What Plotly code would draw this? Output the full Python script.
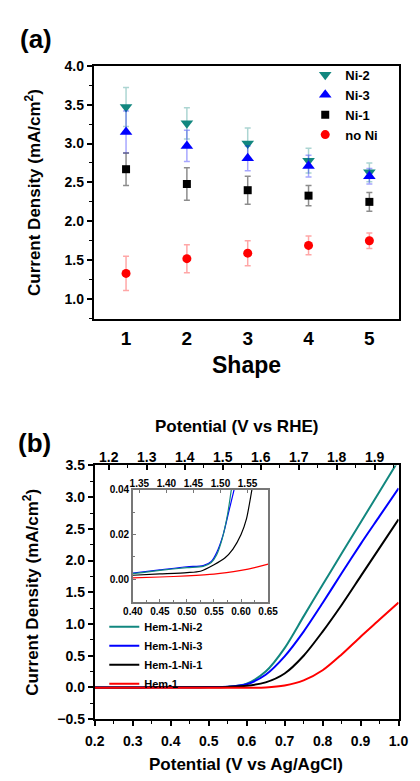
import plotly.graph_objects as go

W, H = 420, 781


def px(x):
    return x / W


def py(y):
    return 1 - y / H


# ---------------- Panel (a) data ----------------
shapes = [1, 2, 3, 4, 5]
ni2 = [3.47, 3.26, 3.00, 2.78, 2.63]
ni2_err = [0.25, 0.20, 0.20, 0.16, 0.12]
ni3 = [3.15, 2.97, 2.81, 2.71, 2.58]
ni3_err = [0.27, 0.20, 0.16, 0.14, 0.10]
ni1 = [2.67, 2.48, 2.40, 2.33, 2.25]
ni1_err = [0.21, 0.21, 0.18, 0.13, 0.12]
noni = [1.33, 1.52, 1.59, 1.69, 1.75]
noni_err = [0.22, 0.18, 0.16, 0.12, 0.10]

# ---------------- Panel (b) main data (V vs Ag/AgCl) ----------------
potential = [0.20, 0.25, 0.30, 0.35, 0.40, 0.45, 0.50, 0.55, 0.60,
             0.65, 0.70, 0.75, 0.80, 0.85, 0.90, 0.95, 1.00]
j_ni2 = [0.000, 0.000, 0.000, 0.001, 0.002, 0.003, 0.005, 0.010, 0.060,
         0.25, 0.62, 1.12, 1.62, 2.11, 2.60, 3.09, 3.58]
j_ni3 = [0.000, 0.000, 0.000, 0.001, 0.002, 0.003, 0.005, 0.010, 0.050,
         0.20, 0.49, 0.88, 1.33, 1.80, 2.26, 2.70, 3.14]
j_ni1 = [0.000, 0.000, 0.000, 0.001, 0.002, 0.002, 0.003, 0.008, 0.025,
         0.08, 0.22, 0.50, 0.88, 1.30, 1.75, 2.20, 2.65]
j_hem = [-0.005, -0.005, -0.005, -0.005, -0.005, -0.005, -0.005, -0.005, -0.004,
         0.00, 0.03, 0.11, 0.27, 0.52, 0.80, 1.07, 1.34]

# ---------------- Panel (b) inset data ----------------
vi_teal = [0.40, 0.45, 0.50, 0.53, 0.545, 0.555, 0.565, 0.575, 0.582, 0.59]
ji_teal = [0.0025, 0.0040, 0.0052, 0.0058, 0.0075, 0.011, 0.018, 0.029, 0.040, 0.052]
vi_blue = [0.40, 0.45, 0.50, 0.53, 0.545, 0.555, 0.567, 0.578, 0.587, 0.595]
ji_blue = [0.0028, 0.0042, 0.0056, 0.0061, 0.0080, 0.012, 0.020, 0.031, 0.040, 0.050]
vi_black = [0.40, 0.45, 0.50, 0.525, 0.55, 0.57, 0.585, 0.60, 0.61, 0.62, 0.625]
ji_black = [0.0018, 0.0024, 0.0030, 0.0036, 0.0065, 0.0095, 0.0135, 0.020, 0.027, 0.040, 0.047]
vi_red = [0.40, 0.45, 0.50, 0.55, 0.60, 0.625, 0.65]
ji_red = [0.0006, 0.0010, 0.0015, 0.0023, 0.0040, 0.0052, 0.0068]

rhe_ticks = [1.2, 1.3, 1.4, 1.5, 1.6, 1.7, 1.8, 1.9]
rhe_inset_ticks = [1.35, 1.40, 1.45, 1.50, 1.55]

TEAL = "#12877f"
BLUE = "#0000ff"
BLACK = "#000000"
RED = "#ff0000"
FONT = "Liberation Sans, Arial, sans-serif"

fig = go.Figure()

# ----- panel (a) traces -----
series_a = [
    ("Ni-2", ni2, ni2_err, TEAL, "triangle-down", 11, "rgba(18,135,127,0.35)"),
    ("Ni-3", ni3, ni3_err, BLUE, "triangle-up", 11, "rgba(0,0,255,0.35)"),
    ("Ni-1", ni1, ni1_err, BLACK, "square", 8, "rgba(0,0,0,0.45)"),
    ("no Ni", noni, noni_err, RED, "circle", 9, "rgba(255,0,0,0.35)"),
]
for name, vals, errs, col, sym, size, ecol in series_a:
    fig.add_trace(go.Scatter(
        x=shapes, y=vals, mode="markers", name=name,
        marker=dict(symbol=sym, size=size, color=col, line=dict(width=0)),
        error_y=dict(type="data", array=errs, visible=True, color=ecol,
                     thickness=1.5, width=3),
        xaxis="x", yaxis="y", legend="legend", cliponaxis=False,
    ))

# ----- panel (b) main traces -----
series_b = [
    ("Hem-1-Ni-2", j_ni2, TEAL),
    ("Hem-1-Ni-3", j_ni3, BLUE),
    ("Hem-1-Ni-1", j_ni1, BLACK),
    ("Hem-1", j_hem, RED),
]
for name, jj, col in series_b:
    fig.add_trace(go.Scatter(
        x=potential, y=jj, mode="lines", name=name,
        line=dict(color=col, width=2, shape="spline", smoothing=0.8),
        xaxis="x2", yaxis="y2", legend="legend2",
    ))

# dummy trace for the RHE top axis
fig.add_trace(go.Scatter(x=[rhe_ticks[0]], y=[None], mode="lines", showlegend=False,
                         hoverinfo="skip", xaxis="x3", yaxis="y2"))

# ----- inset traces -----
series_i = [
    (vi_red, ji_red, RED),
    (vi_black, ji_black, BLACK),
    (vi_blue, ji_blue, BLUE),
    (vi_teal, ji_teal, TEAL),
]
for vv, jj, col in series_i:
    fig.add_trace(go.Scatter(
        x=vv, y=jj, mode="lines", showlegend=False,
        line=dict(color=col, width=1.2, shape="spline", smoothing=0.7),
        xaxis="x4", yaxis="y4",
    ))
fig.add_trace(go.Scatter(x=[rhe_inset_ticks[0]], y=[None], mode="lines", showlegend=False,
                         hoverinfo="skip", xaxis="x5", yaxis="y4"))

bold14 = dict(family=FONT, size=14, color="black", weight="bold")
bold10 = dict(family=FONT, size=10, color="black", weight="bold")

common = dict(showgrid=False, zeroline=False, showline=True, linecolor="black",
              linewidth=2)

fig.update_layout(
    width=W, height=H,
    margin=dict(l=0, r=0, t=0, b=0),
    paper_bgcolor="white", plot_bgcolor="white",
    font=dict(family=FONT, color="black"),
    xaxis=dict(domain=[px(88), px(408)], anchor="y", range=[0.47, 5.48],
               tickvals=shapes, ticks="", mirror=True,
               tickfont=dict(family=FONT, size=19, color="black", weight="bold"),
               ticklabelstandoff=2, **common),
    yaxis=dict(domain=[py(317), py(59)], anchor="x", range=[0.75, 4.0],
               tick0=0, dtick=0.5, tickformat=".1f", ticks="outside", ticklen=5,
               tickwidth=1.5, tickcolor="black", mirror=True,
               minor=dict(dtick=0.25, ticks="outside", ticklen=3, tickwidth=1.2,
                          tickcolor="black"),
               tickfont=bold14, **common),
    xaxis2=dict(domain=[px(89), px(408)], anchor="y2", range=[0.2, 1.0],
                tick0=0.2, dtick=0.1, tickformat=".1f", ticks="outside", ticklen=5,
                tickwidth=1.5, tickcolor="black", mirror=True,
                minor=dict(dtick=0.05, ticks="outside", ticklen=3, tickwidth=1.2,
                           tickcolor="black"),
                ticklabelstandoff=3, tickfont=bold14, **common),
    yaxis2=dict(domain=[py(726), py(467)], anchor="x2", range=[-0.5, 3.5],
                tick0=0, dtick=0.5, tickformat=".1f", ticks="outside", ticklen=5,
                tickwidth=1.5, tickcolor="black", mirror=True,
                minor=dict(dtick=0.25, ticks="outside", ticklen=3, tickwidth=1.2,
                           tickcolor="black"),
                tickfont=bold14, **common),
    xaxis3=dict(overlaying="x2", anchor="y2", side="top", range=[1.163, 1.963],
                tickvals=rhe_ticks, tickformat=".1f", ticks="inside", ticklen=5,
                tickwidth=1.5, tickcolor="black",
                minor=dict(dtick=0.05, tick0=1.15, ticks="inside", ticklen=3,
                           tickwidth=1.2, tickcolor="black"),
                showgrid=False, zeroline=False, showline=False,
                tickfont=bold14),
    xaxis4=dict(domain=[px(129), px(271)], anchor="y4", range=[0.40, 0.65],
                tick0=0.4, dtick=0.05, tickformat=".2f", ticks="inside", ticklen=3,
                tickwidth=1, tickcolor="#777", mirror=True,
                minor=dict(dtick=0.025, ticks="inside", ticklen=2, tickwidth=1,
                           tickcolor="#777"),
                showgrid=False, zeroline=False, showline=True, linecolor="#777",
                linewidth=1.5, tickfont=bold10),
    yaxis4=dict(domain=[py(606), py(492)], anchor="x4", range=[-0.01, 0.04],
                tickvals=[0, 0.02, 0.04], tickformat=".2f", ticks="inside",
                ticklen=3, tickwidth=1, tickcolor="#777", mirror=True,
                minor=dict(dtick=0.01, ticks="inside", ticklen=2, tickwidth=1,
                           tickcolor="#777"),
                showgrid=False, zeroline=False, showline=True, linecolor="#777",
                linewidth=1.5, tickfont=bold10),
    xaxis5=dict(overlaying="x4", anchor="y4", side="top", range=[1.338, 1.588],
                tickvals=rhe_inset_ticks, tickformat=".2f", ticks="inside",
                ticklen=3, tickwidth=1, tickcolor="#777",
                showgrid=False, zeroline=False, showline=False, tickfont=bold10),
    legend=dict(x=px(310), y=py(53), xanchor="left", yanchor="top",
                bgcolor="rgba(0,0,0,0)", itemwidth=30, tracegroupgap=0,
                font=dict(family=FONT, size=13, color="black", weight="bold")),
    legend2=dict(x=px(99), y=py(617), xanchor="left", yanchor="top",
                 bgcolor="rgba(0,0,0,0)", itemwidth=30, tracegroupgap=0,
                 font=dict(family=FONT, size=11, color="black", weight="bold")),
    showlegend=True,
)

ann = [
    dict(text="<b>(a)</b>", x=px(8), y=py(32), xanchor="left", yanchor="middle",
         font=dict(size=26)),
    dict(text="<b>Current Density (mA/cm<sup>2</sup>)</b>", x=px(24), y=py(188),
         textangle=-90, xanchor="center", yanchor="middle", font=dict(size=17)),
    dict(text="<b>Shape</b>", x=px(248), y=py(364), xanchor="center",
         yanchor="middle", font=dict(size=23)),
    dict(text="<b>(b)</b>", x=px(6), y=py(444), xanchor="left", yanchor="middle",
         font=dict(size=26)),
    dict(text="<b>Potential (V vs RHE)</b>", x=px(238), y=py(427), xanchor="center",
         yanchor="middle", font=dict(size=17)),
    dict(text="<b>Current Density (mA/cm<sup>2</sup>)</b>", x=px(22), y=py(596),
         textangle=-90, xanchor="center", yanchor="middle", font=dict(size=17)),
    dict(text="<b>Potential (V vs Ag/AgCl)</b>", x=px(248), y=py(772),
         xanchor="center", yanchor="middle", font=dict(size=17)),
]
for a in ann:
    a.update(xref="paper", yref="paper", showarrow=False)
    a["font"] = dict(family=FONT, color="black", **a["font"])
    fig.add_annotation(**a)

fig.write_html("out.html")
